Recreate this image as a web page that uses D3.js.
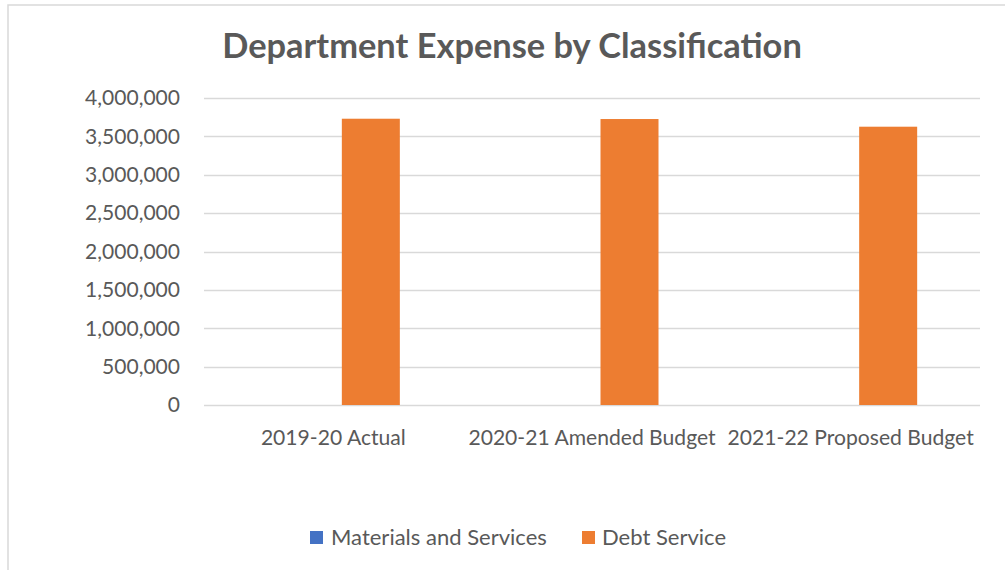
<!DOCTYPE html>
<html>
<head>
<meta charset="utf-8">
<script src="https://cdn.jsdelivr.net/npm/d3@7"></script>
<style>
  html, body { margin: 0; padding: 0; background: #fff; }
  svg { display: block; }
  text { font-family: Lato, "Open Sans", sans-serif; fill: #595959; }
</style>
</head>
<body>
<svg id="chart" width="1005" height="570"></svg>
<script>
const categories = ["2019-20 Actual", "2020-21 Amended Budget", "2021-22 Proposed Budget"];
const seriesNames = ["Materials and Services", "Debt Service"];
const materialsValues = [0, 0, 0];
const debtValues = [3730000, 3726000, 3626000];
const yTicks = [0, 500000, 1000000, 1500000, 2000000, 2500000, 3000000, 3500000, 4000000];
const colors = ["#4472C4", "#ED7D31"];
const titleText = "Department Expense by Classification";

const seriesValues = [materialsValues, debtValues];
const svg = d3.select("#chart");

// fit text to a target width
function fit(sel, target) {
  sel.each(function() {
    const t = d3.select(this);
    const fs = parseFloat(t.style("font-size"));
    const len = this.getComputedTextLength();
    t.style("font-size", (fs * target / len) + "px");
  });
}

// chart border
svg.append("rect")
  .attr("x", 8).attr("y", 5).attr("width", 1010).attr("height", 580)
  .attr("fill", "none").attr("stroke", "#d9d9d9").attr("stroke-width", 1.5);

const plot = { left: 204, right: 980, top: 98, bottom: 405 };

const x = d3.scaleBand().domain(categories).range([plot.left, plot.right]).padding(0);
const y = d3.scaleLinear().domain([0, 4000000]).range([plot.bottom, plot.top]);
const bw = 58;
const x1 = d3.scaleBand().domain(seriesNames).range([-49.5, 66.5]).padding(0);

// gridlines
svg.append("g").selectAll("line").data(yTicks).join("line")
  .attr("x1", plot.left).attr("x2", plot.right)
  .attr("y1", d => Math.round(y(d)) + 0.5).attr("y2", d => Math.round(y(d)) + 0.5)
  .attr("stroke", "#d9d9d9").attr("stroke-width", 1.5);

// y labels
const fmt = d3.format(",");
const yl = svg.append("g").selectAll("text").data(yTicks).join("text")
  .attr("x", 180).attr("y", d => y(d)).attr("dy", "0.35em")
  .attr("text-anchor", "end").style("font-size", "20px")
  .text(d => fmt(d));
fit(yl.filter(d => d === 4000000), 95);
yl.style("font-size", yl.filter(d => d === 4000000).style("font-size"));

// bars
seriesNames.forEach((s, si) => {
  svg.append("g").selectAll("rect").data(categories).join("rect")
    .attr("x", (c) => x(c) + x.bandwidth() / 2 + x1(s))
    .attr("width", x1.bandwidth())
    .attr("y", (c, i) => y(seriesValues[si][i]))
    .attr("height", (c, i) => y(0) - y(seriesValues[si][i]))
    .attr("fill", colors[si]);
});

// x labels
const xl = svg.append("g").selectAll("text").data(categories).join("text")
  .attr("x", c => x(c) + x.bandwidth() / 2).attr("y", 445)
  .attr("text-anchor", "middle").style("font-size", "20px")
  .text(c => c);
fit(xl.filter((d, i) => i === 0), 145);
xl.style("font-size", xl.filter((d, i) => i === 0).style("font-size"));

// title
const title = svg.append("text")
  .attr("x", 512).attr("y", 58).attr("text-anchor", "middle")
  .style("font-size", "28px").style("font-weight", "bold")
  .text(titleText);
fit(title, 580);

// legend
const legendItems = [
  { name: seriesNames[0], color: colors[0], sx: 310, tx: 331, w: 216 },
  { name: seriesNames[1], color: colors[1], sx: 582, tx: 602, w: 121 }
];
const lg = svg.append("g");
lg.selectAll("rect").data(legendItems).join("rect")
  .attr("x", d => d.sx).attr("y", 531).attr("width", 13).attr("height", 13)
  .attr("fill", d => d.color);
const lt = lg.selectAll("text").data(legendItems).join("text")
  .attr("x", d => d.tx).attr("y", 537.5).attr("dy", "0.35em")
  .style("font-size", "20px").text(d => d.name);
fit(lt.filter((d, i) => i === 0), 216);
lt.style("font-size", lt.filter((d, i) => i === 0).style("font-size"));
</script>
</body>
</html>
